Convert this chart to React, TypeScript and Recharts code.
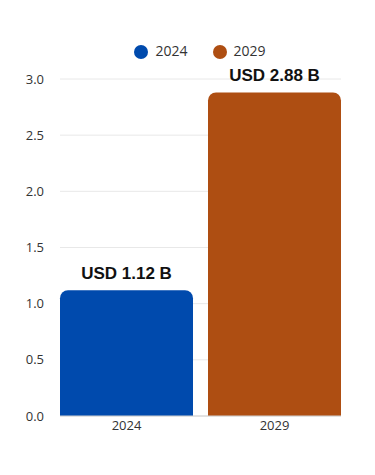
import { BarChart, Bar, XAxis, YAxis, CartesianGrid, Legend, LabelList } from 'recharts';

const years = ['2024', '2029'];
const marketSize = [1.12, 2.88];
const yTicks = [0, 0.5, 1.0, 1.5, 2.0, 2.5, 3.0];

const BLUE = '#004AAD';
const ORANGE = '#AE4E12';

// one row per year, each year only fills its own series so bars stay full width
const data = years.map((y, i) => ({
  year: y,
  v2024: i === 0 ? marketSize[i] : null,
  v2029: i === 1 ? marketSize[i] : null,
}));

const fmtLabel = (v: any) => (v == null ? '' : `USD ${Number(v).toFixed(2)} B`);

const labelStyle = {
  fontFamily: '"Liberation Sans", Arial, sans-serif',
  fontSize: 17,
  fontWeight: 700,
  fill: '#111',
};

export default function App() {
  return (
    <div style={{ width: 359, height: 460, fontFamily: '"Open Sans", sans-serif' }}>
      <BarChart
        width={359}
        height={460}
        data={data}
        margin={{ top: 31, right: 26, left: 0, bottom: 22 }}
        barCategoryGap={7.5}
      >
        <CartesianGrid vertical={false} stroke="#e8e8e8" />
        <XAxis
          dataKey="year"
          padding={{ left: -7.5, right: -7.5 }}
          axisLine={{ stroke: '#d0d0d0' }}
          tickLine={false}
          tickSize={3}
          tick={{ fontSize: 13, fill: '#333' }}
          height={30}
        />
        <YAxis
          domain={[0, 3]}
          ticks={yTicks}
          tickFormatter={(v) => v.toFixed(1)}
          axisLine={false}
          tickLine={false}
          tick={{ fontSize: 13, fill: '#333' }}
          width={52}
          tickMargin={10}
        />
        <Legend
          verticalAlign="top"
          height={40}
          iconType="circle"
          iconSize={14}
          wrapperStyle={{ left: 38 }}
          formatter={(value: string) => (
            <span style={{ color: '#333', fontSize: 14, paddingLeft: 3, marginRight: 15 }}>{value}</span>
          )}
        />
        <Bar dataKey="v2024" name="2024" stackId="s" fill={BLUE} radius={[8, 8, 0, 0]} isAnimationActive={false}>
          <LabelList dataKey="v2024" position="top" offset={11} formatter={fmtLabel} style={labelStyle} />
        </Bar>
        <Bar dataKey="v2029" name="2029" stackId="s" fill={ORANGE} radius={[8, 8, 0, 0]} isAnimationActive={false}>
          <LabelList dataKey="v2029" position="top" offset={11} formatter={fmtLabel} style={labelStyle} />
        </Bar>
      </BarChart>
    </div>
  );
}
